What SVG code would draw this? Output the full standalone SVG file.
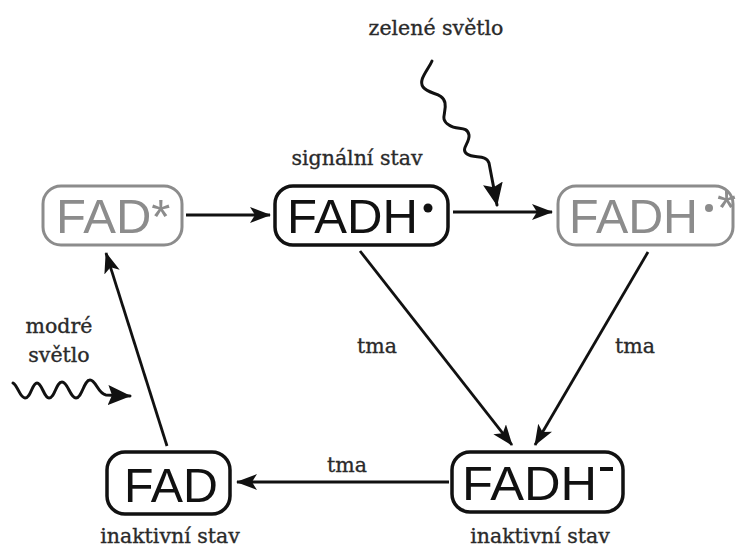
<svg xmlns="http://www.w3.org/2000/svg" width="737" height="548" viewBox="0 0 737 548">
<defs>
<style>
.box{fill:#fff;stroke:#111;stroke-width:3.5}
.gbox{fill:#fff;stroke:#8c8c8c;stroke-width:3}
.big{font-family:"Liberation Sans",Arial,sans-serif;font-size:49px;fill:#111}
.gbig{font-family:"Liberation Sans",Arial,sans-serif;font-size:49px;fill:#8c8c8c}
.lbl{font-family:"DejaVu Serif","Liberation Serif",serif;font-size:20.5px;fill:#2a2a2a;stroke:#2a2a2a;stroke-width:0.35}
.ln{fill:none;stroke:#111;stroke-width:2.8}
.wv{fill:none;stroke:#111;stroke-width:3;stroke-linecap:round;stroke-linejoin:round}
</style>
<marker id="ah" markerUnits="userSpaceOnUse" markerWidth="24" markerHeight="18" refX="20" refY="8" orient="auto">
<path d="M0,0 L21,8 L0,16 L5,8 z" fill="#111"/>
</marker>
<marker id="wh" markerUnits="userSpaceOnUse" markerWidth="26" markerHeight="22" refX="22" refY="10" orient="auto">
<path d="M0,0 L23,10 L0,20 L4,10 z" fill="#111"/>
</marker>
</defs>
<rect width="737" height="548" fill="#fff"/>
<g id="connectors">
<line class="ln" x1="186" y1="215" x2="270" y2="215" marker-end="url(#ah)"/>
<line class="ln" x1="453" y1="212" x2="552" y2="212" marker-end="url(#ah)"/>
<line class="ln" x1="360" y1="251" x2="512" y2="445" marker-end="url(#ah)"/>
<line class="ln" x1="648" y1="252" x2="535" y2="445" marker-end="url(#ah)"/>
<line class="ln" x1="449" y1="482" x2="237" y2="482" stroke-width="2.2" marker-end="url(#ah)"/>
<line class="ln" x1="167" y1="446" x2="106" y2="253" marker-end="url(#ah)"/>
<path class="wv" d="M432,61 C428,70 418,80 423,87 C429,95 443,92 445,103 C447,113 439,119 449,125 C457,131 467,125 469,135 C470,143 460,149 467,154 C474,159 486,154 489,163 L497,205" marker-end="url(#wh)"/>
<path class="wv" d="M13,383 C18,386 20,398 25,398 C31,398 32,383 37,383 C42,383 44,398 49,398 C55,398 56,382 62,382 C68,382 70,398 76,398 C82,398 84,380 90,380 C96,380 98,394 106,395 L130,396" marker-end="url(#wh)"/>
</g>
<g id="node-fad-star">
<rect class="gbox" x="43" y="186" width="139" height="59" rx="18"/>
<text class="gbig" x="56" y="233">FAD*</text>
</g>
<g id="node-fadh-dot">
<rect class="box" x="275" y="186" width="173" height="59" rx="18"/>
<text class="big" x="287" y="233" textLength="131" lengthAdjust="spacingAndGlyphs">FADH</text>
<circle cx="428" cy="208" r="4.5" fill="#111"/>
</g>
<g id="node-fadh-dot-star">
<rect class="gbox" x="558" y="186" width="175" height="59" rx="18"/>
<text class="gbig" x="569" y="233" textLength="129" lengthAdjust="spacingAndGlyphs">FADH</text>
<circle cx="709" cy="208" r="4" fill="#8c8c8c"/>
<text class="gbig" x="717" y="224" font-size="30">*</text>
</g>
<g id="node-fad">
<rect class="box" x="107" y="452" width="123" height="62" rx="18"/>
<text class="big" x="124" y="502" textLength="94" lengthAdjust="spacingAndGlyphs">FAD</text>
</g>
<g id="node-fadh-minus">
<rect class="box" x="452" y="452" width="171" height="60" rx="18"/>
<text class="big" x="462" y="500" textLength="135" lengthAdjust="spacingAndGlyphs">FADH</text>
<rect x="600" y="467" width="13" height="4" fill="#111"/>
</g>
<g id="labels">
<text class="lbl" x="436" y="35" text-anchor="middle">zelené světlo</text>
<text class="lbl" x="357" y="165" text-anchor="middle">signální stav</text>
<text class="lbl" x="59" y="333" text-anchor="middle">modré</text>
<text class="lbl" x="59" y="362" text-anchor="middle">světlo</text>
<text class="lbl" x="377" y="353" text-anchor="middle">tma</text>
<text class="lbl" x="635" y="353" text-anchor="middle">tma</text>
<text class="lbl" x="347" y="472" text-anchor="middle">tma</text>
<text class="lbl" x="170" y="543" text-anchor="middle">inaktivní stav</text>
<text class="lbl" x="540" y="543" text-anchor="middle">inaktivní stav</text>
</g>
</svg>
